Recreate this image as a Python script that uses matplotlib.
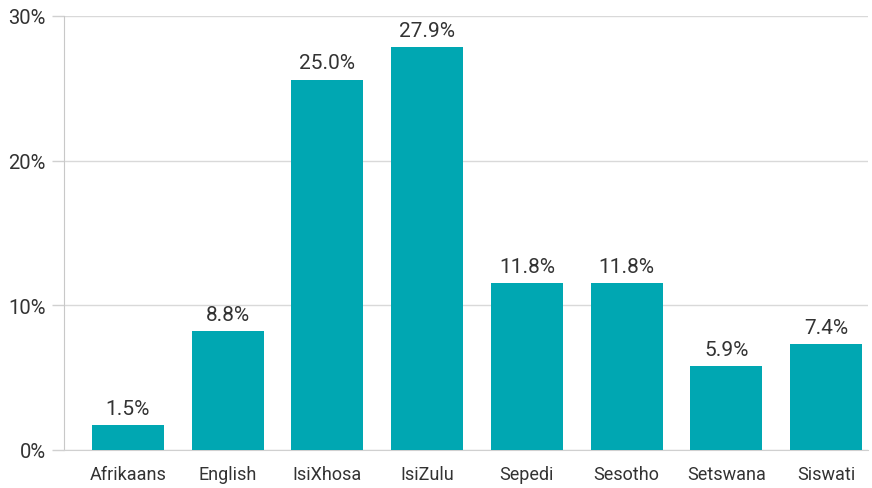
import matplotlib
matplotlib.use("Agg")
import matplotlib.pyplot as plt

categories = ["Afrikaans", "English", "IsiXhosa", "IsiZulu", "Sepedi", "Sesotho", "Setswana", "Siswati"]
values = [1.7, 8.2, 25.6, 27.85, 11.55, 11.55, 5.8, 7.3]
value_labels = ["1.5%", "8.8%", "25.0%", "27.9%", "11.8%", "11.8%", "5.9%", "7.4%"]
yticks = [0, 10, 20, 30]
ytick_labels = ["0%", "10%", "20%", "30%"]

plt.rcParams['font.family'] = ['Roboto', 'DejaVu Sans']

fig = plt.figure(figsize=(8.72, 4.89), dpi=100)
ax = fig.add_axes([64/872, 1-451/489, 804/872, 434/489])

x = list(range(len(categories)))
ax.bar(x, values, width=0.72, color="#00A7B2", zorder=3)
for xi, v, lab in zip(x, values, value_labels):
    ax.text(xi, v + 0.5, lab, ha="center", va="bottom", fontsize=15,
            color="#333333")

ax.set_xlim(-0.64, 7.42)
ax.set_ylim(0, 30)
ax.set_yticks(yticks)
ax.set_yticklabels(ytick_labels, fontsize=14.5, color="#333333")
ax.set_xticks(x)
ax.set_xticklabels(categories, fontsize=13, color="#333333")
ax.tick_params(axis="x", length=0, pad=11)
ax.tick_params(axis="y", length=9, color="#d0d0d0", width=1, pad=4)
ax.grid(axis="y", color="#d9d9d9", linewidth=1, zorder=0)
for s in ["top", "right"]:
    ax.spines[s].set_visible(False)
ax.spines["left"].set_color("#c8c8c8")
ax.spines["bottom"].set_color("#d0d0d0")

fig.savefig("out.png", dpi=100)
